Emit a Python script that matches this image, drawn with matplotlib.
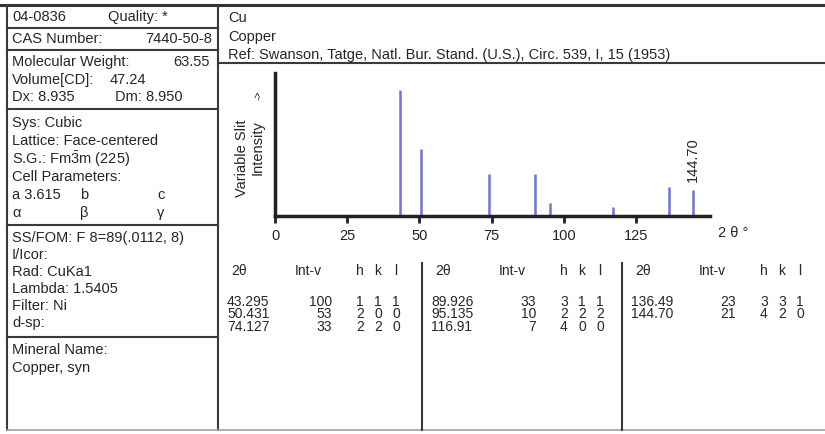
import matplotlib
matplotlib.use("Agg")
import matplotlib.pyplot as plt

# ==============================
# DATA  (PDF card 04-0836, Cu)
# ==============================
two_theta = [43.295, 50.431, 74.127, 89.926, 95.135, 116.91, 136.49, 144.70]
two_theta_txt = ["43.295", "50.431", "74.127", "89.926", "95.135", "116.91", "136.49", "144.70"]
intensity = [100, 53, 33, 33, 10, 7, 23, 21]
hkl = [(1, 1, 1), (2, 0, 0), (2, 2, 0), (3, 1, 1), (2, 2, 2), (4, 0, 0), (3, 3, 1), (4, 2, 0)]
x_ticks = [0, 25, 50, 75, 100, 125]
labelled_peak = 144.70

header_lines = ["Cu", "Copper", "Ref: Swanson, Tatge, Natl. Bur. Stand. (U.S.), Circ. 539, I, 15 (1953)"]
mineral_lines = ["Mineral Name:", "Copper, syn"]
exp_lines = ["SS/FOM: F 8=89(.0112, 8)", "I/Icor:", "Rad: CuKa1", "Lambda: 1.5405", "Filter: Ni", "d-sp:"]

plt.rcParams["font.family"] = ["Liberation Sans", "DejaVu Sans"]
plt.rcParams["mathtext.fontset"] = "custom"
plt.rcParams["mathtext.rm"] = "Liberation Sans"

W, H = 825, 434
FS = 10.5
TXT = "#262626"

fig = plt.figure(figsize=(W / 100, H / 100), dpi=100)
bg = fig.add_axes([0, 0, 1, 1])
bg.set_xlim(0, W)
bg.set_ylim(H, 0)
bg.axis("off")


def put(x, y, s, ha="left", size=FS, **kw):
    bg.text(x, y, s, ha=ha, va="center", fontsize=size, color=TXT, **kw)


# ==============================
# FRAME
# ==============================
line_kw = dict(color="#3a3a3a", lw=1.5)
bg.plot([0, W], [5, 5], color="#333333", lw=2.2)
bg.plot([7, 7], [5, 430], **line_kw)
bg.plot([218, 218], [5, 430], **line_kw)
bg.plot([7, W], [430, 430], color="#a0a0a0", lw=1.2)
for y in [28, 50, 109, 225, 337]:
    bg.plot([7, 218], [y, y], **line_kw)
bg.plot([218, W], [63, 63], **line_kw)
for x in [422, 622]:
    bg.plot([x, x], [263, 430], **line_kw)

# ==============================
# LEFT PANEL
# ==============================
put(12, 17, "04-0836")
put(108, 17, "Quality: *")
put(12, 39, "CAS Number:")
put(212, 39, "7440-50-8", ha="right")
put(12, 62, "Molecular Weight:")
put(210, 62, "63.55", ha="right")
put(12, 80, "Volume[CD]:")
put(110, 80, "47.24")
put(12, 97, "Dx: 8.935")
put(115, 97, "Dm: 8.950")
put(12, 123, "Sys: Cubic")
put(12, 141, "Lattice: Face-centered")
put(12, 159, r"S.G.: Fm$\mathregular{\bar{3}}$m (225)")
put(12, 177, "Cell Parameters:")
put(12, 195, "a 3.615")
put(80, 195, "b")
put(157, 195, "c")
put(12, 213, "α")
put(80, 213, "β")
put(157, 213, "γ")
for i, s in enumerate(exp_lines):
    put(12, 238 + 17 * i, s)
for i, s in enumerate(mineral_lines):
    put(12, 350 + 18 * i, s)

# ==============================
# RIGHT HEADER
# ==============================
for i, s in enumerate(header_lines):
    put(228, 18 + 18.5 * i, s)

# ==============================
# STICK PATTERN
# ==============================
ax = fig.add_axes([275 / W, 1 - 216 / H, 435 / W, 143 / H])
ax.patch.set_alpha(0)
ax.vlines(two_theta, 0, intensity, color="#7272dc", lw=1.8)
ax.set_xlim(0, 150.6)
ax.set_ylim(0, 113.5)
for s in ["top", "right"]:
    ax.spines[s].set_visible(False)
for s in ["left", "bottom"]:
    ax.spines[s].set_linewidth(2.5)
    ax.spines[s].set_color("#222222")
ax.set_xticks(x_ticks)
ax.tick_params(axis="x", direction="out", length=5, width=2, pad=4,
               labelsize=FS, colors="#222222")
ax.set_yticks([])
ax.text(labelled_peak, intensity[two_theta.index(labelled_peak)] + 6, "144.70",
        rotation=90, ha="center", va="bottom", fontsize=FS, color=TXT)

put(718, 233, "2 θ °")
bg.text(242, 158, "Variable Slit", rotation=90, ha="center", va="center", fontsize=FS, color=TXT)
bg.text(258, 148, "Intensity", rotation=90, ha="center", va="center", fontsize=FS, color=TXT)
bg.text(258, 95, "->", rotation=90, ha="center", va="center", fontsize=7.5, color=TXT)

# ==============================
# PEAK TABLE
# ==============================
TFS = 10
block_left = [218, 422, 622]
for b, x0 in enumerate(block_left):
    put(x0 + 13, 271, "2θ", size=TFS)
    put(x0 + 90, 271, "Int-v", ha="center", size=TFS)
    for j, name in enumerate(["h", "k", "l"]):
        put(x0 + 142 + 18 * j, 271, name, ha="center", size=TFS)
    for r in range(3):
        i = 3 * b + r
        if i >= len(two_theta):
            break
        y = 302 + 12.5 * r
        put(x0 + 9, y, two_theta_txt[i], size=TFS)
        put(x0 + 114, y, str(intensity[i]), ha="right", size=TFS)
        for j, v in enumerate(hkl[i]):
            put(x0 + 142 + 18 * j, y, str(v), ha="center", size=TFS)

fig.savefig("out.png", dpi=100)
plt.close(fig)
